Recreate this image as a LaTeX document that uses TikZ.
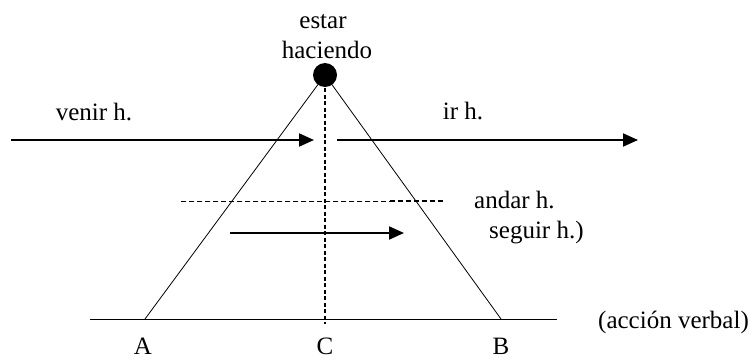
\documentclass[tikz,border=0pt]{standalone}
\usepackage{fontspec}
\setmainfont{Liberation Serif}
\usetikzlibrary{arrows.meta}
\begin{document}
\begin{tikzpicture}[x=1pt,y=-1pt,
  font=\fontsize{25}{30}\selectfont,
  lbl/.style={inner sep=0pt,anchor=base},
  arr/.style={line width=2pt,-{Triangle[length=15pt,width=13pt]}},
  side/.style={line width=0.8pt},
  vdots/.style={line width=1.8pt,dash pattern=on 4pt off 2.5pt},
  hdash/.style={line width=0.9pt,dash pattern=on 5pt off 3pt},
  hdashb/.style={line width=1.8pt,dash pattern=on 5pt off 3pt}]
\useasboundingbox (0,0) rectangle (751,359);
% coordinates
\coordinate (apex) at (325,75);
\coordinate (A0) at (145,319);
\coordinate (B0) at (501,319);
\coordinate (C0) at (325,324);
\coordinate (L0) at (90,319);
\coordinate (R0) at (557,319);
\coordinate (v1) at (11,140);
\coordinate (v2) at (314,140);
\coordinate (i1) at (337,140);
\coordinate (i2) at (638,140);
\coordinate (d1) at (181,201);
\coordinate (d2) at (390,201);
\coordinate (d3) at (445,201);
\coordinate (s1) at (230,233);
\coordinate (s2) at (404,233);
% texts
\node[lbl] (estar) at (323,28) {estar};
\node[lbl] (haciendo) at (327,58) {haciendo};
\node[lbl] (venir) at (94,120) {venir h.};
\node[lbl] (ir) at (463,119) {ir h.};
\node[lbl,anchor=base west] (andar) at (474,208) {andar h.};
\node[lbl,anchor=base west] (seguir) at (489,238) {seguir h.)};
\node[lbl,anchor=base east] (accion) at (749,328) {(acción verbal)};
\node[lbl] (A) at (143,354) {A};
\node[lbl] (C) at (325,354) {C};
\node[lbl] (B) at (501,354) {B};
% lines
\draw[side] (L0) -- (R0);
\draw[side] (apex) -- (A0);
\draw[side] (apex) -- (B0);
\draw[vdots] (apex) -- (C0);
\draw[hdash] (d1) -- (d2);
\draw[hdashb] (d2) -- (d3);
\draw[arr] (v1) -- (v2);
\draw[arr] (i1) -- (i2);
\draw[arr] (s1) -- (s2);
\node[circle,fill,minimum size=24pt,inner sep=0pt] (dot) at (apex) {};
\end{tikzpicture}
\end{document}
